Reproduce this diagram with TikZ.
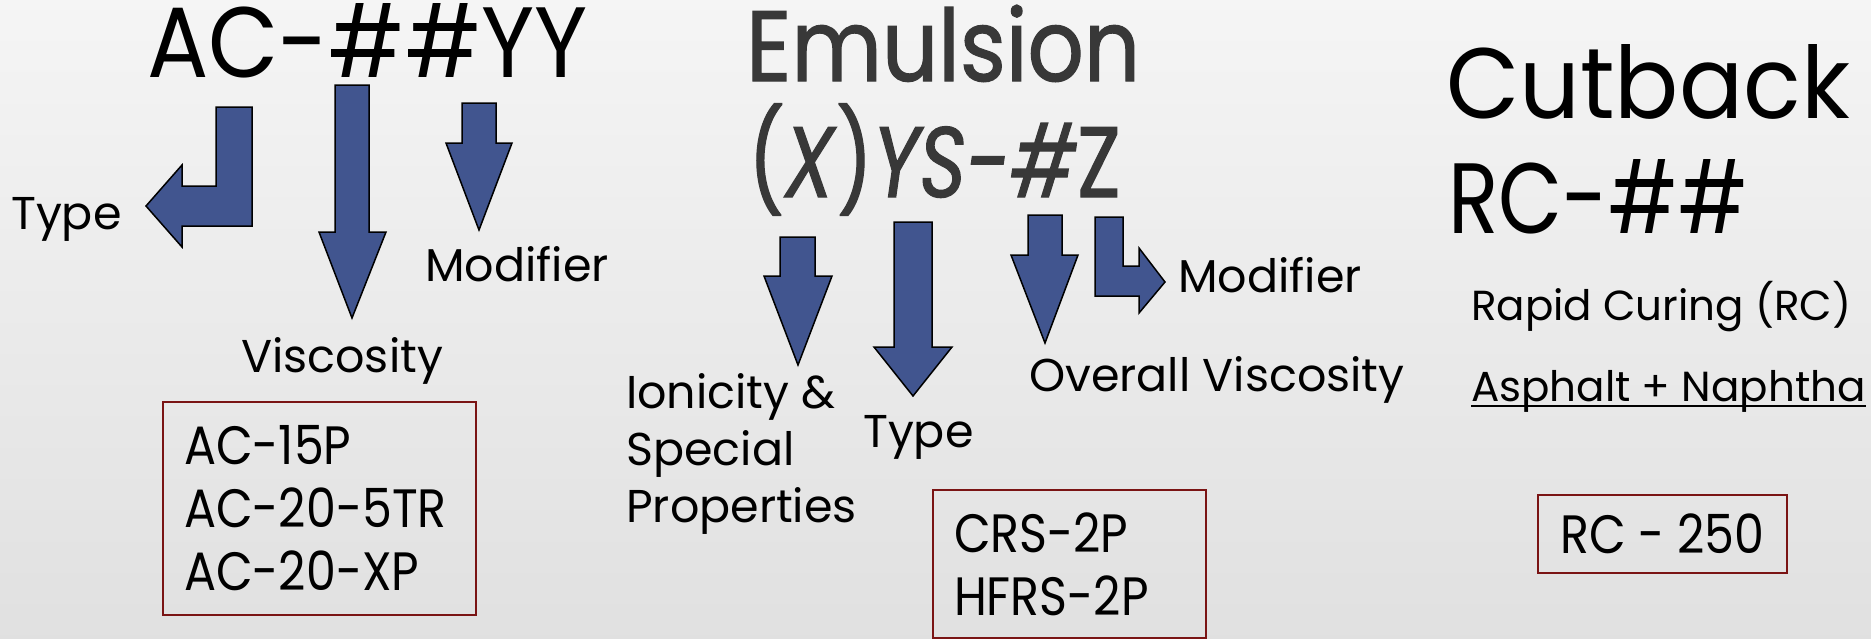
\documentclass[tikz,border=0pt]{standalone}
\usepackage{fontspec}
\setmainfont{Poppins}
\usetikzlibrary{positioning}

\definecolor{arrowblue}{HTML}{41558F}
\definecolor{boxred}{HTML}{7A1414}
\definecolor{titlegray}{HTML}{383838}

\begin{document}
\begin{tikzpicture}[
    x=1pt, y=-1pt,
    barrow/.style={draw=black, line width=1.5pt, fill=arrowblue, line join=miter},
    title/.style={anchor=base west, inner sep=0pt,
                  font=\fontsize{100}{100}\selectfont\addfontfeatures{FakeStretch=#1}},
    title/.default=0.9,
    emutitle/.style={anchor=base west, inner sep=0pt, text=titlegray,
                  font=\fontsize{100}{100}\selectfont\addfontfeatures{FakeStretch=#1,FakeBold=1.2}},
    lbl/.style={anchor=base west, inner sep=0pt, font=\fontsize{46}{57}\selectfont},
    codebox/.style={draw=boxred, line width=2pt, anchor=north west, align=left,
                    inner xsep=21pt, font=\fontsize{54}{63}\selectfont\addfontfeatures{FakeStretch=0.88}}
]

% Background
\useasboundingbox (0,0) rectangle (1871,638);
\shade[top color=black!4, bottom color=black!12] (0,0) rectangle (1871,638);

% Asphalt cement
\node[title=0.91] (ac) at (147,77) {AC-\#\#YY};
\draw[barrow] (216,107) -- (252,107) -- (252,226) -- (182,226) -- (182,247)
    -- (146,206) -- (182,165) -- (182,186) -- (216,186) -- cycle;
\draw[barrow] (335,85) -- (369,85) -- (369,232) -- (386,232) -- (352,318)
    -- (319,232) -- (335,232) -- cycle;
\draw[barrow] (462,103) -- (496,103) -- (496,143) -- (512,143) -- (479,230)
    -- (446,143) -- (462,143) -- cycle;
\node[lbl] (actype) at (11,229) {Type};
\node[lbl] (acvisc) at (241,372) {Viscosity};
\node[lbl] (acmod) at (425,281) {Modifier};
\node[codebox, minimum width=313, minimum height=213, text width=271] (acbox) at (162,401)
    {AC-15P\\AC-20-5TR\\AC-20-XP};

% Emulsion
\node[emutitle=0.88] (emu) at (746,81) {Emulsion};
\node[emutitle=0.8] (emucode) at (748,197) {(\textit{X})\textit{YS-\#}Z};
\draw[barrow] (780,237) -- (815,237) -- (815,276) -- (832,276) -- (798,365)
    -- (764,276) -- (780,276) -- cycle;
\draw[barrow] (894,222) -- (932,222) -- (932,347) -- (952,347) -- (913,396)
    -- (874,347) -- (894,347) -- cycle;
\draw[barrow] (1028,215) -- (1062,215) -- (1062,255) -- (1078,255) -- (1045,343)
    -- (1011,255) -- (1028,255) -- cycle;
\draw[barrow] (1095,217) -- (1123,217) -- (1123,266) -- (1139,266) -- (1139,248)
    -- (1165,282) -- (1139,313) -- (1139,296) -- (1095,296) -- cycle;
\node[lbl, align=left, anchor=north west] (emuion) at (626,373) {Ionicity \&\\Special\\Properties};
\node[lbl] (emutype) at (863,447) {Type};
\node[lbl] (emuvisc) at (1029,391) {Overall Viscosity};
\node[lbl] (emumod) at (1178,292) {Modifier};
\node[codebox, minimum width=273, minimum height=148, text width=231] (emubox) at (932,489)
    {CRS-2P\\HFRS-2P};

% Cutback
\node[title=0.95] (cut) at (1446,118) {Cutback};
\node[title=0.83] (cutcode) at (1448,233) {RC-\#\#};
\node[lbl, font=\fontsize{42}{50}\selectfont] (rapid) at (1471,320) {Rapid Curing (RC)};
\node[lbl, font=\fontsize{42}{50}\selectfont] (naph) at (1471,401) {Asphalt + Naphtha};
\draw[line width=2pt] ([yshift=-5pt]naph.base west) -- ([yshift=-5pt]naph.base east);
\node[codebox, minimum width=249, minimum height=78] (cutbox) at (1537,494) {RC - 250};

\end{tikzpicture}
\end{document}
